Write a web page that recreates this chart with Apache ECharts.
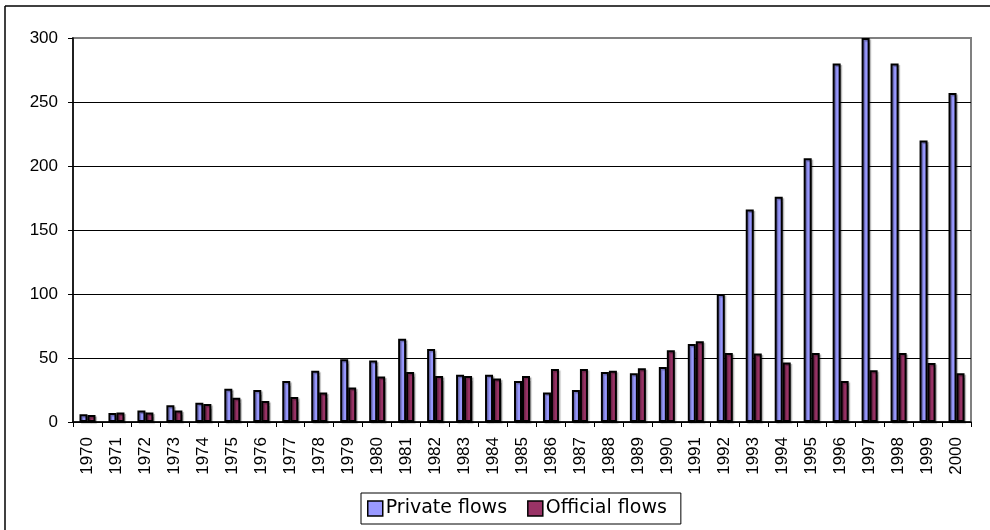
<!DOCTYPE html>
<html>
<head>
<meta charset="utf-8">
<script src="https://cdn.jsdelivr.net/npm/echarts@6/dist/echarts.min.js"></script>
<style>
html,body{margin:0;padding:0;background:#fff;}
#chart{width:990px;height:530px;}
</style>
</head>
<body>
<div id="chart"></div>
<script>
const years = ['1970','1971','1972','1973','1974','1975','1976','1977','1978','1979','1980','1981','1982','1983','1984','1985','1986','1987','1988','1989','1990','1991','1992','1993','1994','1995','1996','1997','1998','1999','2000'];
const privateFlows = [6,7,9,13,15,26,25,32,40,49,48,65,57,37,37,32,23,25,39,38,43,61,100,166,176,206,280,300,280,220,257];
const officialFlows = [5.5,7.5,7.5,9,14,19,16.5,19.5,23,27,35.5,39,36,36,34,36,41.5,41.5,40,42,56,63,54,53.5,46.5,54,32,40.5,54,46,38];
const seriesNames = ['Private flows','Official flows'];
const yTicks = {min:0, max:300, interval:50};

const chart = echarts.init(document.getElementById('chart'), null, {renderer:'canvas'});
const font = "'Liberation Sans', Arial, sans-serif";
const barStyle = (c) => ({
  color:c, borderColor:'#000', borderWidth:2,
  shadowColor:'rgba(0,0,0,0.3)', shadowBlur:1, shadowOffsetX:1.5, shadowOffsetY:1.5
});
chart.setOption({
  animation:false,
  backgroundColor:'#fff',
  graphic:[
    {type:'line', shape:{x1:5, y1:6, x2:990, y2:6}, style:{stroke:'#000', lineWidth:1.5}},
    {type:'line', shape:{x1:5, y1:6, x2:5, y2:530}, style:{stroke:'#000', lineWidth:1.5}}
  ],
  grid:{left:73, right:19, top:38, bottom:108, show:true, borderColor:'#808080', borderWidth:2},
  legend:{
    left:361, top:493,
    data:seriesNames,
    itemWidth:15, itemHeight:15, itemGap:20,
    borderColor:'#000', borderWidth:1,
    padding:[6,14,6,6],
    icon:'rect',
    itemStyle:{borderColor:'#000', borderWidth:1.5},
    textStyle:{fontFamily:'DejaVu Sans', fontSize:19, color:'#000', padding:[0,0,0,-2]}
  },
  xAxis:{
    type:'category', data:years,
    axisLine:{lineStyle:{color:'#000', width:1.5}},
    axisTick:{show:true, length:5, lineStyle:{color:'#000'}},
    axisLabel:{rotate:90, margin:15, fontFamily:font, fontSize:17, color:'#000'}
  },
  yAxis:{
    type:'value', min:yTicks.min, max:yTicks.max, interval:yTicks.interval,
    axisLine:{show:true, lineStyle:{color:'#000', width:1.5}},
    axisTick:{show:true, length:5, lineStyle:{color:'#000'}},
    axisLabel:{margin:15, fontFamily:font, fontSize:17, color:'#000'},
    splitLine:{show:true, lineStyle:{color:['#000','#000','#000','#000','#000','#000','#808080'], width:1}}
  },
  series:[
    {name:seriesNames[0], type:'bar', data:privateFlows, barWidth:8, barGap:'0%', itemStyle:barStyle('#9999FF')},
    {name:seriesNames[1], type:'bar', data:officialFlows, barWidth:8, barGap:'0%', itemStyle:barStyle('#993366')}
  ]
});
</script>
</body>
</html>
